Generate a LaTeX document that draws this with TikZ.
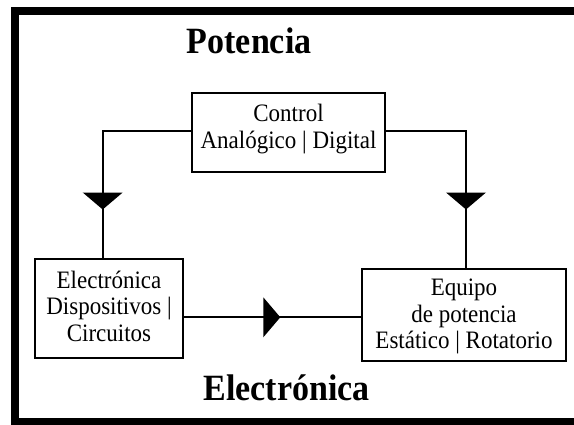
\documentclass[tikz,border=0pt]{standalone}
\usepackage{fontspec}
\setmainfont{Liberation Serif}
\usepackage{graphicx}
\newcommand{\boxtxt}[1]{\scalebox{1}[1.09]{\fontsize{23}{24.3}\selectfont\begin{tabular}{@{}c@{}}#1\end{tabular}}}
\begin{document}
\begin{tikzpicture}[x=1pt,y=-1pt,
  box/.style={draw, line width=1.8pt, inner sep=0pt},
  lbl/.style={inner sep=0pt, align=center},
  conn/.style={line width=1.8pt},
  tri/.style={fill=black},
  title/.style={font=\fontsize{34}{40}\selectfont\bfseries, anchor=base, inner sep=0pt}]
\clip (0,0) rectangle (574,424);
\fill[white] (0,0) rectangle (574,424);
% frame
\draw[line width=8pt] (15,11.2) rectangle (640,421.5);
% titles
\node[title] (tpot) at (249.2,53.3) {\scalebox{1}[1.09]{Potencia}};
\node[title] (telec) at (286.7,400) {\scalebox{1}[1.09]{Electrónica}};
% boxes
\node[box, minimum width=193pt, minimum height=79pt] (ctrl) at (288.5,132.5) {};
\node[lbl] (ctrlt) at ([yshift=2.9pt]ctrl.center) {\boxtxt{Control\\Analógico | Digital}};
\node[box, minimum width=148pt, minimum height=99pt] (elec) at (109,308.5) {};
\node[lbl] (elect) at ([yshift=-1.1pt]elec.center) {\boxtxt{Electrónica\\Dispositivos |\\Circuitos}};
\node[box, minimum width=204pt, minimum height=92pt] (equipo) at (464,315) {};
\node[lbl] (equipot) at ([yshift=-1.7pt]equipo.center) {\boxtxt{Equipo\\de potencia\\Estático | Rotatorio}};
% connector guide coordinates
\coordinate (lx) at (102.7,0);
\coordinate (rx) at (466,0);
\coordinate (hy) at (0,317.3);
\coordinate (ty) at (0,192.5);
% connectors
\draw[conn] ([yshift=1.8pt]ctrl.west) -| (lx |- elec.north);
\draw[conn] ([yshift=1.8pt]ctrl.east) -| (rx |- equipo.north);
\draw[conn] (elec.east |- hy) -- (equipo.west |- hy);
% arrowheads
\fill[tri] (lx |- ty) ++(-20,0) -- ++(40,0) -- ++(-20,17) -- cycle;
\fill[tri] (rx |- ty) ++(-20,0) -- ++(40,0) -- ++(-20,17) -- cycle;
\coordinate (hx) at (263.3,0);
\fill[tri] (hx |- hy) ++(0,-20) -- ++(0,40) -- ++(17,-20) -- cycle;
\end{tikzpicture}
\end{document}
